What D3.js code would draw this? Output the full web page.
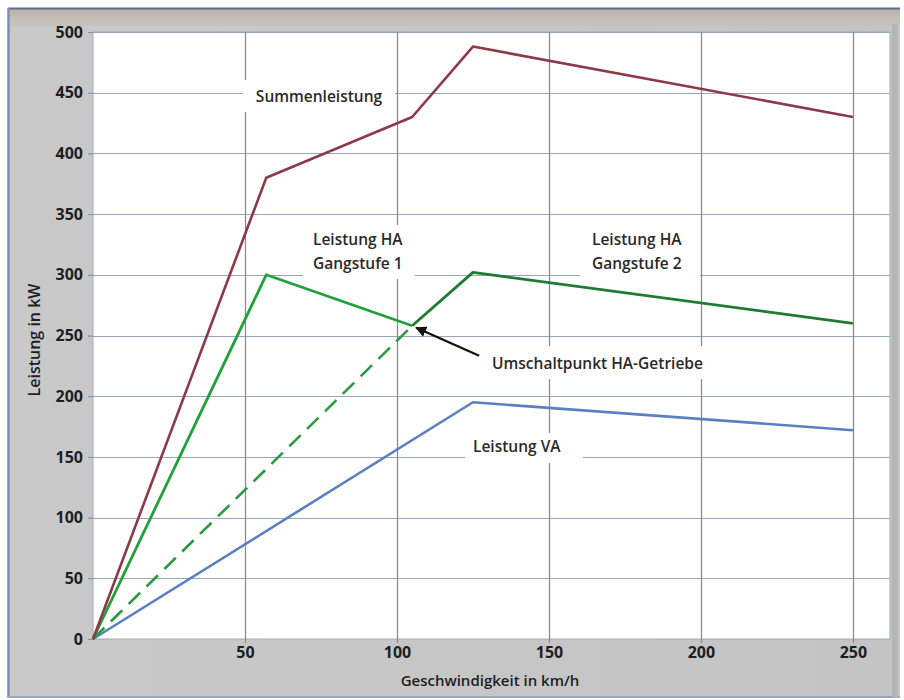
<!DOCTYPE html>
<html>
<head>
<meta charset="utf-8">
<script src="https://cdn.jsdelivr.net/npm/d3@7"></script>
<style>
  html, body { margin: 0; padding: 0; background: #ffffff; }
  svg { display: block; }
  text { font-family: "Open Sans", "DejaVu Sans", sans-serif; }
</style>
</head>
<body>
<div id="chart"></div>
<script>
// ---------------- data ----------------
const xTicks = [50, 100, 150, 200, 250];
const yTicks = [0, 50, 100, 150, 200, 250, 300, 350, 400, 450, 500];

// Summenleistung
const sumX = [0, 57, 105, 125, 250];
const sumY = [0, 380, 430, 488, 430];
// Leistung HA Gangstufe 1
const ha1X = [0, 57, 105];
const ha1Y = [0, 300, 258];
// Leistung HA Gangstufe 2 (dashed part up to switch point)
const ha2DashX = [0, 105];
const ha2DashY = [0, 258];
// Leistung HA Gangstufe 2 (solid part)
const ha2X = [105, 125, 250];
const ha2Y = [258, 302, 260];
// Leistung VA
const vaX = [0, 125, 250];
const vaY = [0, 195, 172];
// switch point
const switchX = [105];
const switchY = [258];

const labels = ["Summenleistung", "Leistung HA", "Gangstufe 1", "Leistung HA", "Gangstufe 2",
                "Umschaltpunkt HA-Getriebe", "Leistung VA"];
const xTitle = "Geschwindigkeit in km/h";
const yTitle = "Leistung in kW";

// ---------------- layout ----------------
const W = 904, H = 700;
const plot = { left: 93, right: 890, top: 32, bottom: 639 };

const svg = d3.select("#chart").append("svg").attr("width", W).attr("height", H);
const defs = svg.append("defs");

const topGrad = defs.append("linearGradient").attr("id", "topGrad")
  .attr("x1", 0).attr("y1", 0).attr("x2", 0).attr("y2", 1);
topGrad.append("stop").attr("offset", "0%").attr("stop-color", "#7d8ea8");
topGrad.append("stop").attr("offset", "8%").attr("stop-color", "#b9b3ad");
topGrad.append("stop").attr("offset", "60%").attr("stop-color", "#c8bfb5");
topGrad.append("stop").attr("offset", "100%").attr("stop-color", "#c3c3c3");

const bgGrad = defs.append("linearGradient").attr("id", "bgGrad")
  .attr("x1", 0).attr("y1", 0).attr("x2", 1).attr("y2", 0);
bgGrad.append("stop").attr("offset", "0%").attr("stop-color", "#c9c9c9");
bgGrad.append("stop").attr("offset", "100%").attr("stop-color", "#c4c4c4");

// outer frame
svg.append("rect").attr("x", 8).attr("y", 8).attr("width", 892).attr("height", 690)
  .attr("fill", "url(#bgGrad)");
svg.append("rect").attr("x", 8).attr("y", 8).attr("width", 892).attr("height", 18)
  .attr("fill", "url(#topGrad)");
svg.append("line").attr("x1", 8).attr("x2", 900).attr("y1", 8.5).attr("y2", 8.5)
  .attr("stroke", "#5c6f8c").attr("stroke-width", 2);
svg.append("line").attr("x1", 8.5).attr("x2", 8.5).attr("y1", 8).attr("y2", 698)
  .attr("stroke", "#7b90b4").attr("stroke-width", 2.5);
svg.append("line").attr("x1", 8).attr("x2", 900).attr("y1", 697).attr("y2", 697)
  .attr("stroke", "#9aa6ba").attr("stroke-width", 2);
svg.append("rect").attr("x", 892).attr("y", 24).attr("width", 6).attr("height", 674)
  .attr("fill", "#b5b5b5");

// scales
const x = d3.scaleLinear().domain([0, 262.2]).range([plot.left, plot.right]);
const y = d3.scaleLinear().domain([0, 500]).range([plot.bottom, plot.top]);

// plot area
svg.append("rect").attr("x", plot.left).attr("y", plot.top)
  .attr("width", plot.right - plot.left).attr("height", plot.bottom - plot.top)
  .attr("fill", "#ffffff").attr("stroke", "#a3a9b3").attr("stroke-width", 1);

// gridlines
const grid = svg.append("g");
grid.selectAll("line.h").data(yTicks.filter(d => d > 0)).join("line")
  .attr("x1", plot.left - 5).attr("x2", plot.right)
  .attr("y1", d => Math.round(y(d)) + 0.5).attr("y2", d => Math.round(y(d)) + 0.5)
  .attr("stroke", "#98a6bb").attr("stroke-width", 1.2);
grid.selectAll("line.v").data(xTicks).join("line")
  .attr("x1", d => Math.round(x(d)) + 0.5).attr("x2", d => Math.round(x(d)) + 0.5)
  .attr("y1", plot.top).attr("y2", plot.bottom + 4)
  .attr("stroke", "#7e8898").attr("stroke-width", 1.2);

// axes (labels only, lines styled)
const yAxis = svg.append("g").attr("transform", `translate(${plot.left},0)`)
  .call(d3.axisLeft(y).tickValues(yTicks).tickSize(5).tickPadding(5));
const xAxis = svg.append("g").attr("transform", `translate(0,${plot.bottom})`)
  .call(d3.axisBottom(x).tickValues(xTicks).tickSize(4).tickPadding(4));
[yAxis, xAxis].forEach(a => {
  a.select(".domain").attr("stroke", "#8a8f98").attr("stroke-width", 1.2);
  a.selectAll(".tick line").attr("stroke", "#8a8f98");
  a.selectAll(".tick text").attr("font-family", "'Open Sans', sans-serif")
    .attr("font-size", 16).attr("font-weight", 700).attr("fill", "#1e1e1e");
});
xAxis.select(".domain").remove();
yAxis.select(".domain").remove();

// white label boxes (hide gridlines behind text)
const boxes = [
  [243, 80, 152, 32],
  [303, 225, 112, 54],
  [580, 225, 120, 60],
  [486, 346, 236, 33],
  [465, 433, 118, 30]
];
svg.append("g").selectAll("rect").data(boxes).join("rect")
  .attr("x", d => d[0]).attr("y", d => d[1]).attr("width", d => d[2]).attr("height", d => d[3])
  .attr("fill", "#ffffff");

// lines
const lineGen = d3.line().x(d => x(d[0])).y(d => y(d[1]));
const zip = (a, b) => a.map((v, i) => [v, b[i]]);
const g = svg.append("g").attr("fill", "none").attr("stroke-linejoin", "round");

g.append("path").datum(zip(vaX, vaY)).attr("d", lineGen)
  .attr("stroke", "#5b80c2").attr("stroke-width", 2.6);
g.append("path").datum(zip(ha2DashX, ha2DashY)).attr("d", lineGen)
  .attr("stroke", "#2c9a43").attr("stroke-width", 2.6).attr("stroke-dasharray", "16,9");
g.append("path").datum(zip(ha1X, ha1Y)).attr("d", lineGen)
  .attr("stroke", "#22a03c").attr("stroke-width", 2.8);
g.append("path").datum(zip(ha2X, ha2Y)).attr("d", lineGen)
  .attr("stroke", "#1f7a34").attr("stroke-width", 2.8);
g.append("path").datum(zip(sumX, sumY)).attr("d", lineGen)
  .attr("stroke", "#8c3a48").attr("stroke-width", 2.6);

// annotation arrow
defs.append("marker").attr("id", "arrow").attr("viewBox", "0 0 10 10")
  .attr("refX", 9).attr("refY", 5).attr("markerWidth", 5).attr("markerHeight", 5)
  .attr("orient", "auto").attr("markerUnits", "strokeWidth")
  .append("path").attr("d", "M0,0 L10,5 L0,10 z").attr("fill", "#111");
const sx = x(switchX[0]), sy = y(switchY[0]);
svg.append("line")
  .attr("x1", sx + 67).attr("y1", sy + 30)
  .attr("x2", sx + 4).attr("y2", sy + 2)
  .attr("stroke", "#111").attr("stroke-width", 2.2).attr("marker-end", "url(#arrow)");

// text labels
const txt = svg.append("g").attr("font-family", "'Open Sans', sans-serif")
  .attr("font-weight", 600).attr("font-size", 15.5).attr("fill", "#2a2a2a");
txt.append("text").attr("x", 319).attr("y", 102).attr("text-anchor", "middle").text(labels[0]);
txt.append("text").attr("x", 313).attr("y", 245).text(labels[1]);
txt.append("text").attr("x", 313).attr("y", 269).text(labels[2]);
txt.append("text").attr("x", 592).attr("y", 245).text(labels[3]);
txt.append("text").attr("x", 592).attr("y", 269).text(labels[4]);
txt.append("text").attr("x", 492).attr("y", 369).text(labels[5]);
txt.append("text").attr("x", 473).attr("y", 452).text(labels[6]);

// axis titles
svg.append("text").attr("x", 490).attr("y", 686).attr("text-anchor", "middle")
  .attr("font-weight", 600).attr("font-size", 15).attr("fill", "#1e1e1e").text(xTitle);
svg.append("text").attr("transform", "translate(40,340) rotate(-90)").attr("text-anchor", "middle")
  .attr("font-weight", 600).attr("font-size", 16).attr("fill", "#1e1e1e").text(yTitle);
</script>
</body>
</html>
